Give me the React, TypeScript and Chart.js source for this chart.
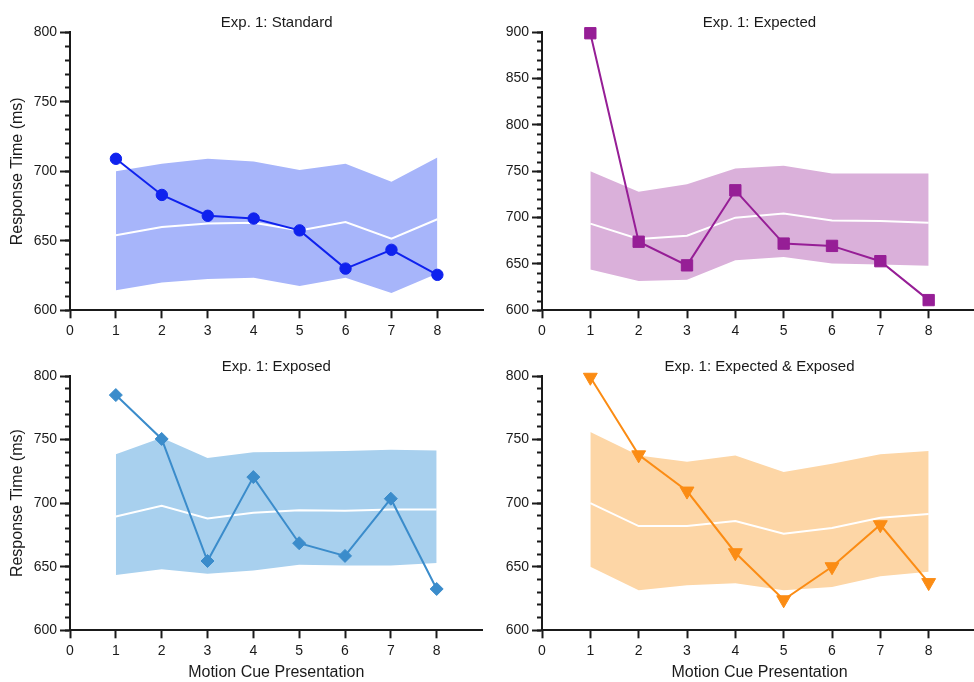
import React, { useEffect, useRef } from "react";
import { Chart, registerables } from "chart.js";

Chart.register(...registerables);

// Motion cue presentation index (x) and the tick labels along that axis
const presentations = [1, 2, 3, 4, 5, 6, 7, 8];
const xTickValues = [0, 1, 2, 3, 4, 5, 6, 7, 8];

// Exp. 1: Standard
const standardRT = [709, 683, 668, 666, 657.5, 630, 643.5, 625.5];
const standardMean = [654, 660, 662.5, 663, 657.5, 663.5, 651.5, 665.5];
const standardUpper = [700, 705.5, 709, 707, 701, 705.5, 692.5, 710];
const standardLower = [614.5, 620, 622.5, 623.5, 617.5, 623.5, 612.5, 626.5];

// Exp. 1: Expected
const expectedRT = [899, 674, 648.5, 729.5, 672, 669.5, 653, 611];
const expectedMean = [693.5, 677, 680.5, 700, 704.5, 697, 696.5, 694.5];
const expectedUpper = [750, 728, 736, 753, 756, 747.5, 747.5, 747.5];
const expectedLower = [644, 631.5, 633, 654, 657.5, 650.5, 649.5, 648];

// Exp. 1: Exposed
const exposedRT = [785, 750.5, 654.5, 720.5, 668.5, 658.5, 703.5, 632.5];
const exposedMean = [689.5, 698, 688, 692.5, 694.5, 694, 695, 695];
const exposedUpper = [738.5, 751.5, 735.5, 740, 740.5, 741, 742, 741.5];
const exposedLower = [643.5, 648, 644.5, 647, 651.5, 651, 651, 653];

// Exp. 1: Expected & Exposed
const bothRT = [799, 738, 709.5, 661, 624, 650, 683, 637.5];
const bothMean = [700, 682, 682, 686, 676, 680.5, 688.5, 691.5];
const bothUpper = [756, 737.5, 732.5, 737.5, 724.5, 731, 738.5, 741];
const bothLower = [650, 631.5, 635.5, 637, 631.5, 634, 642.5, 646];

const FONT = "'Liberation Sans', Arial, Helvetica, sans-serif";
const INK = "#1a1a1a";

type Panel = {
  title: string;
  rt: number[];
  mean: number[];
  upper: number[];
  lower: number[];
  color: string;
  band: string;
  pointStyle: "circle" | "rect" | "rectRot" | "triangle";
  radius: number;
  rotation: number;
  yMin: number;
  yMax: number;
  left: number;
  top: number;
  width: number;
  height: number;
  yAxisWidth: number;
  xAxisHeight: number;
  titlePadTop: number;
  titlePadBottom: number;
  yTitle: boolean;
  xTitle: boolean;
};

const panels: Panel[] = [
  {
    title: "Exp. 1: Standard",
    rt: standardRT, mean: standardMean, upper: standardUpper, lower: standardLower,
    color: "#0f22ee", band: "#a7b5fa", pointStyle: "circle", radius: 5.7, rotation: 0,
    yMin: 600, yMax: 800,
    left: 0, top: 0, width: 490, height: 341, yAxisWidth: 70, xAxisHeight: 30.7,
    titlePadTop: 13.5, titlePadBottom: 0.8, yTitle: true, xTitle: false,
  },
  {
    title: "Exp. 1: Expected",
    rt: expectedRT, mean: expectedMean, upper: expectedUpper, lower: expectedLower,
    color: "#961e96", band: "#dab0da", pointStyle: "rect", radius: 8, rotation: 0,
    yMin: 600, yMax: 900,
    left: 490, top: 0, width: 496, height: 341, yAxisWidth: 52, xAxisHeight: 30.7,
    titlePadTop: 13.5, titlePadBottom: 0.8, yTitle: false, xTitle: false,
  },
  {
    title: "Exp. 1: Exposed",
    rt: exposedRT, mean: exposedMean, upper: exposedUpper, lower: exposedLower,
    color: "#3b8ccb", band: "#a8d0ee", pointStyle: "rectRot", radius: 6.5, rotation: 0,
    yMin: 600, yMax: 800,
    left: 0, top: 341, width: 490, height: 341, yAxisWidth: 70, xAxisHeight: 51.7,
    titlePadTop: 16.5, titlePadBottom: 0.5, yTitle: true, xTitle: true,
  },
  {
    title: "Exp. 1: Expected & Exposed",
    rt: bothRT, mean: bothMean, upper: bothUpper, lower: bothLower,
    color: "#fb8c14", band: "#fdd6a6", pointStyle: "triangle", radius: 8, rotation: 180,
    yMin: 600, yMax: 800,
    left: 490, top: 341, width: 496, height: 341, yAxisWidth: 52, xAxisHeight: 51.7,
    titlePadTop: 16.5, titlePadBottom: 0.5, yTitle: false, xTitle: true,
  },
];

function PanelChart({ p }: { p: Panel }) {
  const ref = useRef<HTMLCanvasElement | null>(null);

  useEffect(() => {
    if (!ref.current) return;
    const chart = new Chart(ref.current, {
      type: "line",
      data: {
        labels: presentations,
        datasets: [
          {
            label: "RT",
            data: p.rt,
            borderColor: p.color,
            backgroundColor: p.color,
            borderWidth: 2,
            pointStyle: p.pointStyle,
            pointRadius: p.radius,
            pointRotation: p.rotation,
            pointBorderWidth: 1,
            pointBorderColor: p.color,
            pointBackgroundColor: p.color,
            tension: 0,
            fill: false,
            clip: false,
          },
          {
            label: "Mean",
            data: p.mean,
            borderColor: "#ffffff",
            borderWidth: 2,
            pointRadius: 0,
            tension: 0,
            fill: false,
          },
          {
            label: "Upper",
            data: p.upper,
            borderWidth: 0,
            borderColor: "rgba(0,0,0,0)",
            backgroundColor: p.band,
            pointRadius: 0,
            tension: 0,
            fill: "+1",
          },
          {
            label: "Lower",
            data: p.lower,
            borderWidth: 0,
            borderColor: "rgba(0,0,0,0)",
            pointRadius: 0,
            tension: 0,
            fill: false,
          },
        ],
      },
      options: {
        responsive: false,
        animation: false,
        devicePixelRatio: 1,
        layout: { padding: 0 },
        plugins: {
          legend: { display: false },
          tooltip: { enabled: false },
          title: {
            display: true,
            text: p.title,
            fullSize: false,
            color: INK,
            font: { family: FONT, size: 15, weight: "normal", lineHeight: 1.2 },
            padding: { top: p.titlePadTop, bottom: p.titlePadBottom },
          },
        },
        scales: {
          x: {
            type: "linear",
            min: 0,
            max: 9,
            afterBuildTicks: (s: any) => {
              s.ticks = xTickValues.map((value) => ({ value }));
            },
            afterFit: (s: any) => {
              s.height = p.xAxisHeight;
            },
            ticks: {
              color: INK,
              font: { family: FONT, size: 14 },
              padding: 4,
              maxRotation: 0,
              autoSkip: false,
            },
            grid: {
              drawOnChartArea: false,
              drawTicks: true,
              tickLength: 8,
              tickWidth: 2,
              tickColor: INK,
            },
            border: { display: true, color: INK, width: 2 },
            title: {
              display: p.xTitle,
              text: "Motion Cue Presentation",
              color: INK,
              font: { family: FONT, size: 16 },
              padding: { top: 0, bottom: 0 },
            },
          },
          y: {
            type: "linear",
            position: "left",
            min: p.yMin,
            max: p.yMax,
            afterFit: (s: any) => {
              s.width = p.yAxisWidth;
            },
            ticks: {
              stepSize: 50,
              color: INK,
              font: { family: FONT, size: 14 },
              padding: 3,
            },
            grid: {
              drawOnChartArea: false,
              drawTicks: true,
              tickLength: 10,
              tickWidth: 2,
              tickColor: INK,
            },
            border: { display: true, color: INK, width: 2 },
            title: {
              display: p.yTitle,
              text: "Response Time (ms)",
              color: INK,
              font: { family: FONT, size: 16 },
              padding: { top: 8, bottom: 0 },
            },
          },
          yMinor: {
            type: "linear",
            position: { x: 0 },
            min: p.yMin,
            max: p.yMax,
            ticks: { stepSize: 10, display: false },
            grid: {
              drawOnChartArea: false,
              drawTicks: true,
              tickLength: 5,
              tickWidth: 2,
              tickColor: INK,
            },
            border: { display: false },
          },
        },
      } as any,
    });
    return () => chart.destroy();
  }, [p]);

  return (
    <canvas
      ref={ref}
      width={p.width}
      height={p.height}
      style={{ position: "absolute", left: p.left, top: p.top }}
    />
  );
}

export default function App() {
  return (
    <div
      style={{
        position: "absolute",
        left: 0,
        top: 0,
        width: 974,
        height: 682,
        overflow: "hidden",
        background: "#ffffff",
      }}
    >
      {panels.map((p) => (
        <PanelChart key={p.title} p={p} />
      ))}
    </div>
  );
}
